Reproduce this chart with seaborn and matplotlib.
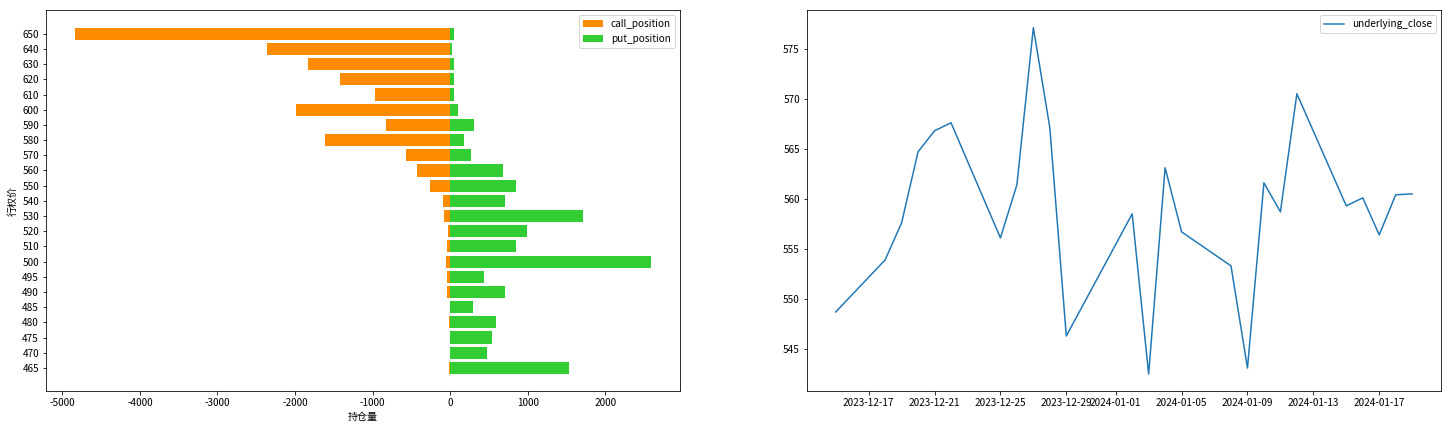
import pandas as pd
import seaborn as sns
import matplotlib.pyplot as plt

plt.rcParams['font.family'] = ['Noto Sans CJK SC', 'DejaVu Sans']
plt.rcParams['axes.unicode_minus'] = False

# strike prices, top to bottom
strikes = ['650', '640', '630', '620', '610', '600', '590', '580', '570', '560', '550',
           '540', '530', '520', '510', '500', '495', '490', '485', '480', '475', '470', '465']
call_position = [-4839, -2362, -1832, -1417, -968, -1987, -824, -1613, -570, -426, -259,
                 -92, -75, -29, -46, -58, -46, -46, 0, -17, 0, 0, -10]
put_position = [52, 23, 52, 52, 52, 104, 311, 179, 271, 685, 853,
                709, 1717, 991, 853, 2592, 438, 709, 300, 593, 541, 478, 1538]

dates = ['2023-12-15', '2023-12-18', '2023-12-19', '2023-12-20', '2023-12-21', '2023-12-22',
         '2023-12-25', '2023-12-26', '2023-12-27', '2023-12-28', '2023-12-29',
         '2024-01-02', '2024-01-03', '2024-01-04', '2024-01-05', '2024-01-08',
         '2024-01-09', '2024-01-10', '2024-01-11', '2024-01-12', '2024-01-15',
         '2024-01-16', '2024-01-17', '2024-01-18', '2024-01-19']
underlying_close = [548.7, 553.9, 557.6, 564.7, 566.8, 567.6,
                    556.1, 561.4, 577.1, 567.1, 546.3,
                    558.5, 542.5, 563.1, 556.7, 553.3,
                    543.1, 561.6, 558.7, 570.5, 559.3,
                    560.1, 556.4, 560.4, 560.5]

fig, (ax1, ax2) = plt.subplots(1, 2, figsize=(1451 / 72, 431 / 72), dpi=72)
fig.subplots_adjust(left=0.0317, right=0.9931, top=0.976, bottom=0.092, wspace=0.2)

sns.barplot(x=call_position, y=strikes, order=strikes, orient='h', color='darkorange',
            saturation=1, label='call_position', ax=ax1)
sns.barplot(x=put_position, y=strikes, order=strikes, orient='h', color='limegreen',
            saturation=1, label='put_position', ax=ax1)
ax1.set_ylim(len(strikes) - 1 + 1.54, -1.54)
ax1.set_xlabel('持仓量')
ax1.set_ylabel('行权价')
ax1.legend(loc='upper right')

df = pd.DataFrame({'date': pd.to_datetime(dates), 'underlying_close': underlying_close})
sns.lineplot(data=df, x='date', y='underlying_close', label='underlying_close', ax=ax2)
ax2.set_xlabel('')
ax2.set_ylabel('')
ax2.legend(loc='upper right')

fig.savefig('out.png', dpi=72)
